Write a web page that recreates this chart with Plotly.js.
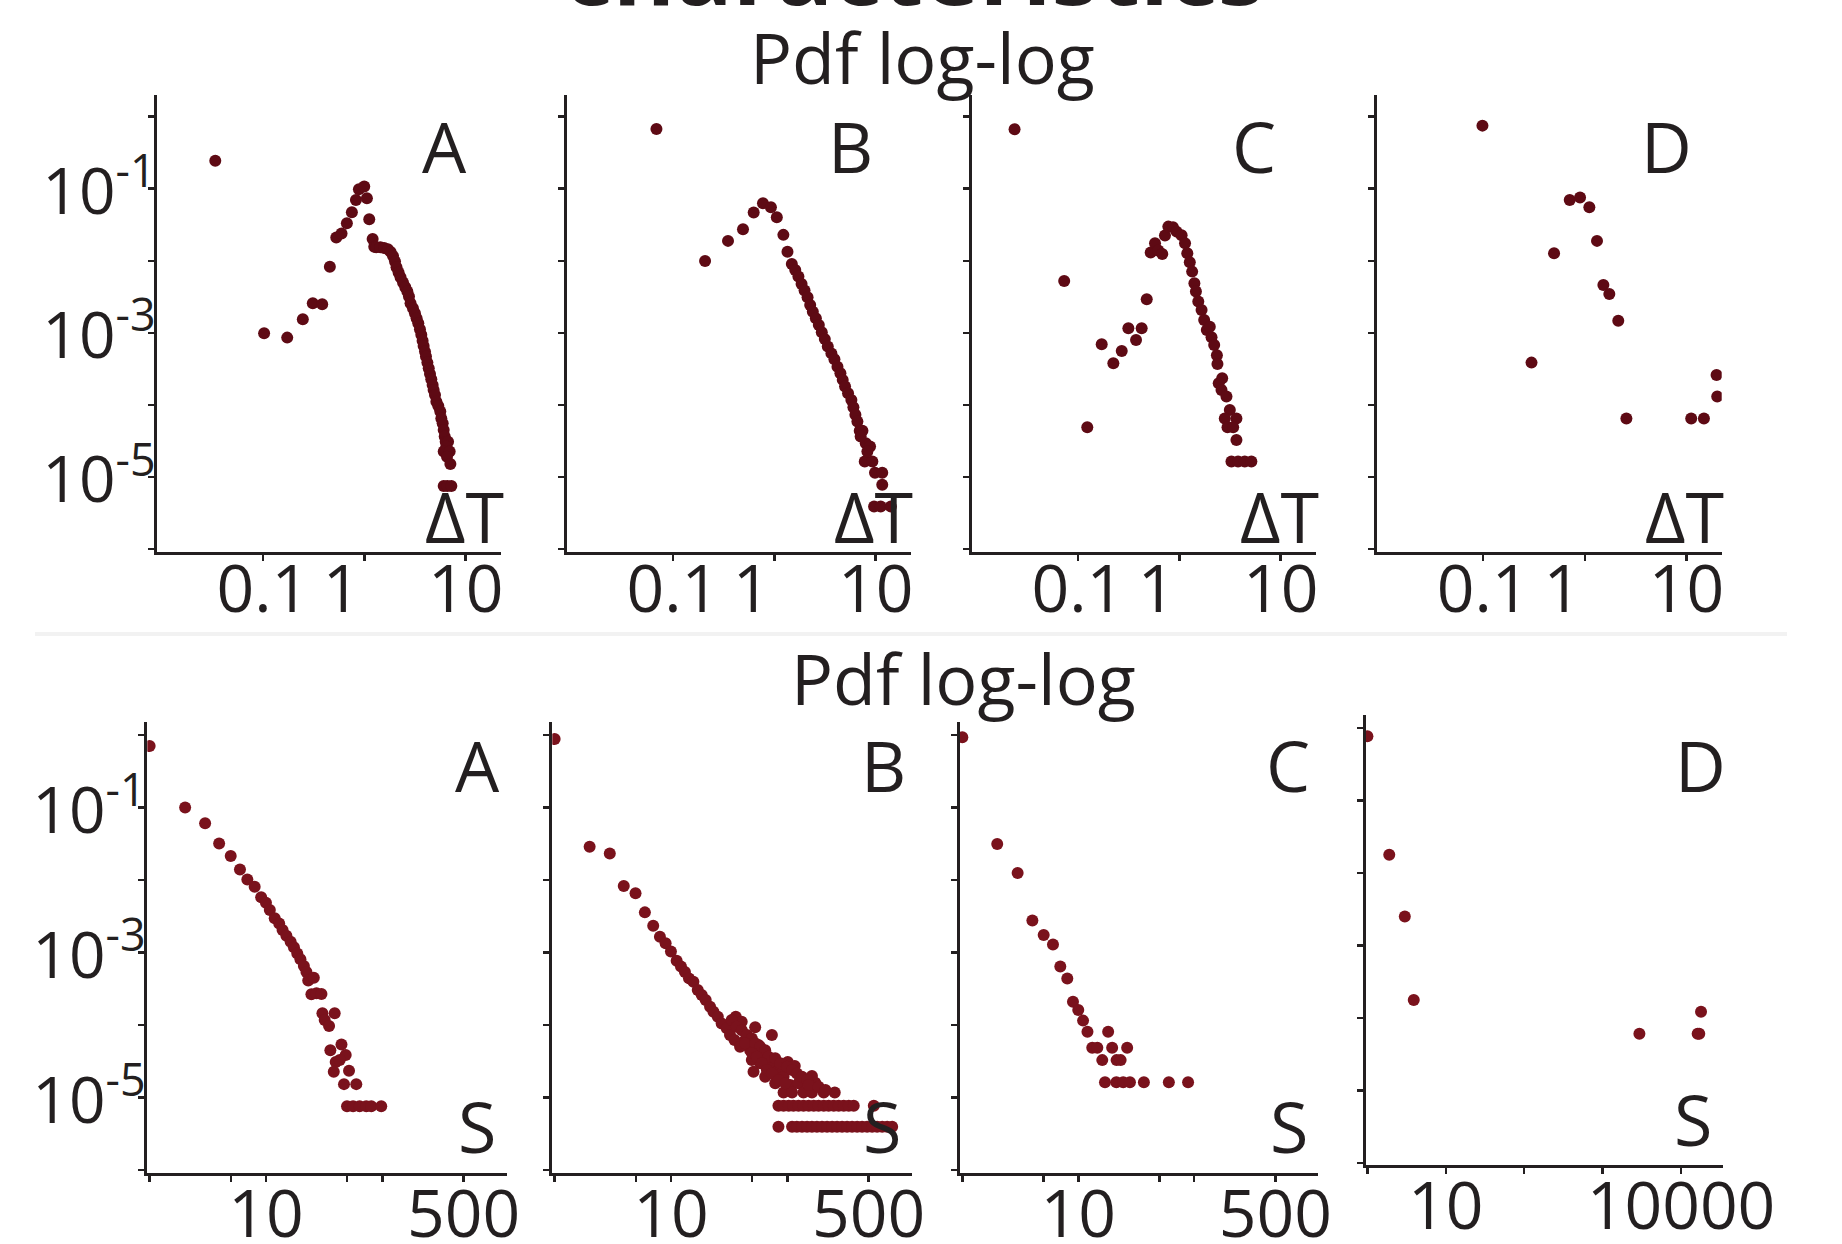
<!DOCTYPE html>
<html><head><meta charset="utf-8">
<script src="https://cdn.plot.ly/plotly-3.0.1.min.js"></script>
<style>html,body{margin:0;padding:0;background:#fff}#chart{width:1842px;height:1244px}</style>
</head><body><div id="chart"></div>
<script>
// ---------------- DATA ----------------
// Top row: pdf of waiting time ΔT (log-log), panels A-D
const topA_x = [0.034, 0.103, 0.174, 0.248, 0.311, 0.385, 0.458, 0.53, 0.597, 0.674,
  0.755, 0.828, 0.886, 1.0, 1.062, 1.12, 1.21, 1.255, 1.31, 1.44,
  1.57, 1.71, 1.82, 1.92, 2.01, 2.08, 2.18, 2.28, 2.41, 2.54,
  2.66, 2.76, 2.86, 3.02, 3.16, 3.28, 3.41, 3.54, 3.65, 3.76,
  3.85, 3.97, 4.06, 4.19, 4.32, 4.45, 4.58, 4.72, 4.83, 4.98,
  5.14, 5.37, 5.62, 5.75, 5.93, 6.07, 6.21, 6.35, 6.70, 6.44,
  6.07, 6.95, 6.54, 7.06, 6.07, 6.59, 7.22];
const topA_y = [0.245, 9.9e-4, 8.6e-4, 1.55e-3, 2.58e-3, 2.5e-3, 8.3e-3, 0.021, 0.024, 0.0332,
  0.0471, 0.0698, 0.098, 0.107, 0.0737, 0.0377, 0.0201, 0.0157, 0.0154, 0.0154,
  0.0151, 0.0145, 0.0133, 0.0117, 0.00975, 0.00813, 0.00686, 0.00591, 0.00499, 0.0043,
  0.00374, 0.00319, 0.00258, 0.0022, 0.00187, 0.0016, 0.00136, 0.00112, 9.4e-4, 7.8e-4,
  6.6e-4, 5.5e-4, 4.7e-4, 3.87e-4, 3.24e-4, 2.7e-4, 2.28e-4, 1.9e-4, 1.62e-4, 1.38e-4,
  1.11e-4, 9.7e-5, 8.1e-5, 6.5e-5, 5.6e-5, 4.5e-5, 3.65e-5, 3.1e-5, 3.1e-5, 2.65e-5,
  2.26e-5, 2.26e-5, 1.92e-5, 1.52e-5, 7.5e-6, 7.5e-6, 7.5e-6];

const topB_x = [0.069, 0.208, 0.35, 0.492, 0.627, 0.774, 0.927, 1.06, 1.23, 1.35,
  1.49, 1.61, 1.73, 1.86, 1.99, 2.13, 2.26, 2.40, 2.57, 2.75,
  2.94, 3.15, 3.37, 3.66, 3.92, 4.20, 4.49, 4.73, 4.99, 5.34,
  5.76, 6.03, 6.31, 6.60, 6.96, 7.40, 7.98, 8.80, 7.80, 9.27,
  9.84, 11.6, 11.6, 9.64, 11.2, 14.1, 8.28, 7.11];
const topB_y = [0.674, 0.00995, 0.0189, 0.0274, 0.0467, 0.0628, 0.0553, 0.0402, 0.0229, 0.0134,
  0.00905, 0.00747, 0.00604, 0.00478, 0.00386, 0.00312, 0.00244, 0.00197, 0.0016, 0.00129,
  0.00102, 8.2e-4, 6.5e-4, 5.2e-4, 4.3e-4, 3.4e-4, 2.75e-4, 2.23e-4, 1.8e-4, 1.46e-4,
  1.17e-4, 9.3e-5, 7.3e-5, 5.9e-5, 4.4e-5, 4.4e-5, 2.94e-5, 2.65e-5, 1.64e-5, 1.64e-5,
  1.15e-5, 1.15e-5, 7.8e-6, 3.9e-6, 3.9e-6, 3.9e-6, 2.26e-5, 3.65e-5];

const topC_x = [0.0238, 0.0734, 0.124, 0.172, 0.224, 0.271, 0.315, 0.375, 0.426, 0.478,
  0.523, 0.577, 0.621, 0.68, 0.723, 0.78, 0.867, 0.942, 1.055, 1.14,
  1.2, 1.27, 1.34, 1.41, 1.46, 1.54, 1.66, 1.76, 1.87, 2.00,
  2.08, 2.21, 2.35, 2.38, 2.65, 2.45, 2.61, 2.92, 3.15, 2.81,
  3.66, 2.99, 3.40, 3.66, 3.27, 3.80, 4.42, 5.14];
const topC_y = [0.667, 0.00526, 4.9e-5, 6.95e-4, 3.8e-4, 5.6e-4, 0.00116, 8.0e-4, 0.00116, 0.00293,
  0.013, 0.0175, 0.0139, 0.0124, 0.0224, 0.0298, 0.0292, 0.0254, 0.0226, 0.0175,
  0.0127, 0.00954, 0.00708, 0.00488, 0.00374, 0.00272, 0.00208, 0.00151, 0.0011, 0.00122,
  8.7e-4, 6.8e-4, 4.9e-4, 3.7e-4, 2.35e-4, 2.0e-4, 1.62e-4, 1.31e-4, 8.5e-5, 6.5e-5,
  6.5e-5, 4.9e-5, 4.9e-5, 3.28e-5, 1.64e-5, 1.64e-5, 1.64e-5, 1.64e-5];

const topD_x = [0.0985, 0.299, 0.498, 0.71, 0.897, 1.107, 1.316, 1.52, 1.74, 2.13, 2.56, 11.1, 14.8, 20.0, 19.7];
const topD_y = [0.75, 3.87e-4, 0.0127, 0.0698, 0.0753, 0.0553, 0.0189, 0.00463, 0.00347, 0.00147, 6.5e-5, 6.5e-5, 6.5e-5, 1.31e-4, 2.61e-4];

// Bottom row: pdf of size S (log-log), panels A-D
const botA_x = [1, 2.02, 3.0, 3.96, 4.98, 5.98, 6.92, 8.0, 9.1, 10,
  10.8, 11.9, 13.0, 13.9, 15.0, 16.3, 17.4, 18.6, 19.8, 21.2,
  22.3, 23.1, 25.8, 24.6, 27.2, 30.0, 30.6, 32.0, 34.9, 39.0,
  35.8, 44.6, 48.5, 39.8, 43.1, 38.3, 51.8, 46.9, 59.8, 49.8,
  56.1, 63.9, 72.9, 80.5, 98];
const botA_y = [0.705, 0.1, 0.0605, 0.032, 0.0214, 0.014, 0.0102, 0.0081, 0.00577, 0.00487,
  0.00385, 0.00296, 0.00252, 0.00204, 0.0017, 0.00141, 0.00118, 9.7e-4, 8.05e-4, 6.5e-4,
  5.4e-4, 4.1e-4, 4.5e-4, 2.65e-4, 2.74e-4, 2.68e-4, 1.45e-4, 1.17e-4, 9.7e-5, 1.45e-4,
  4.5e-5, 5.4e-5, 3.85e-5, 3.1e-5, 3.3e-5, 2.27e-5, 2.34e-5, 1.53e-5, 1.53e-5, 7.6e-6,
  7.6e-6, 7.6e-6, 7.6e-6, 7.6e-6, 7.6e-6];

const botB_x = [1, 2.0, 2.98, 3.93, 4.96, 5.97, 7.04, 8.04, 9.0, 10,
  11.2, 12.2, 13.2, 14.3, 15.6, 17.0, 18.4, 19.9, 21.7, 23.2,
  25.3, 27.3, 30.2, 36.1, 40.6, 53.0, 73.8, 32.2, 35.2, 39.3,
  43.5, 48.0, 56.6, 62.5, 49.6, 58.5, 51.3, 64.6, 73.8, 84.2,
  93, 78.8, 101, 116, 106, 125, 163, 174, 138, 163,
  206, 256, 93, 110, 33.3, 36.8, 40.7, 44.9, 49.6, 43.4,
  53.0, 58.5, 64.6, 69.0, 78.8, 87.1, 99.4, 110, 121, 134,
  148, 153, 186, 213, 49.6, 54.8, 60.5, 66.8, 73.8, 84.2,
  96.1,
  84, 93, 103, 113, 125, 138, 153, 169, 186, 206,
  227, 251, 277, 306, 338, 373, 555,
  84, 110, 121, 134, 148, 163, 180, 199, 220, 243,
  268, 296, 327, 361, 399, 440, 486, 537, 593, 655,
  723, 798];
const botB_y = [0.88, 0.0288, 0.0233, 0.00827, 0.00655, 0.00358, 0.00234, 0.00165, 0.00134, 0.00103,
  7.7e-4, 6.4e-4, 5.4e-4, 4.4e-4, 3.96e-4, 3.04e-4, 2.6e-4, 2.21e-4, 1.79e-4, 1.53e-4,
  1.3e-4, 1.05e-4, 9.0e-5, 1.3e-4, 1.11e-4, 9.3e-5, 7.3e-5, 7.3e-5, 6.2e-5, 5.0e-5,
  6.2e-5, 4.5e-5, 5.3e-5, 4.1e-5, 3.3e-5, 2.96e-5, 2.27e-5, 1.94e-5, 2.96e-5, 2.39e-5,
  1.94e-5, 1.57e-5, 3.1e-5, 2.72e-5, 1.49e-5, 1.57e-5, 1.98e-5, 1.6e-5, 1.17e-5, 1.17e-5,
  1.17e-5, 1.17e-5, 1.17e-5, 1.17e-5, 1.17e-4, 9.5e-5, 8.5e-5, 7.3e-5, 6.5e-5, 5.6e-5,
  5.6e-5, 5.0e-5, 4.5e-5, 3.66e-5, 3.47e-5, 2.96e-5, 2.66e-5, 2.39e-5, 2.15e-5, 1.94e-5,
  1.74e-5, 1.49e-5, 1.41e-5, 1.27e-5, 4.1e-5, 3.66e-5, 2.96e-5, 2.39e-5, 2.15e-5, 1.74e-5,
  1.57e-5,
  7.7e-6, 7.7e-6, 7.7e-6, 7.7e-6, 7.7e-6, 7.7e-6, 7.7e-6, 7.7e-6, 7.7e-6, 7.7e-6,
  7.7e-6, 7.7e-6, 7.7e-6, 7.7e-6, 7.7e-6, 7.7e-6, 7.7e-6,
  3.96e-6, 3.96e-6, 3.96e-6, 3.96e-6, 3.96e-6, 3.96e-6, 3.96e-6, 3.96e-6, 3.96e-6, 3.96e-6,
  3.96e-6, 3.96e-6, 3.96e-6, 3.96e-6, 3.96e-6, 3.96e-6, 3.96e-6, 3.96e-6, 3.96e-6, 3.96e-6,
  3.96e-6, 3.96e-6];

const botC_x = [1.0, 2.0, 3.0, 4.02, 5.03, 6.05, 7.0, 8.04, 9.0, 10,
  11.0, 12.0, 18.1, 13.2, 14.6, 19.6, 26.4, 16.1, 21.4, 23.2,
  17.0, 21.3, 24.4, 27.9, 36.8, 60.4, 88.5];
const botC_y = [0.93, 0.0315, 0.0125, 0.00277, 0.00175, 0.00129, 6.4e-4, 4.37e-4, 2.1e-4, 1.61e-4,
  1.15e-4, 8.1e-5, 8.1e-5, 4.86e-5, 4.86e-5, 4.86e-5, 4.86e-5, 3.28e-5, 3.28e-5, 3.28e-5,
  1.63e-5, 1.63e-5, 1.63e-5, 1.63e-5, 1.63e-5, 1.63e-5, 1.63e-5];

const botD_x = [1.0, 1.9, 3.0, 3.9, 2946, 16300, 17100, 18000];
const botD_y = [0.776, 0.0179, 0.00253, 1.78e-4, 6.07e-5, 6.07e-5, 6.07e-5, 1.22e-4];

// Tick values / labels
const topX_vals = [0.1, 1, 10];
const topX_text = ['0.1', '1\u00a0\u00a0\u2009', '10'];
const botX_vals = [1, 5, 10, 50, 100, 500];
const botX_text = ['', '', '10', '', '', '500'];
const botDX_vals = [1, 10, 100, 1000, 10000];
const botDX_text = ['', '10', '', '', '10000'];
const y_vals = [1, 0.1, 0.01, 1e-3, 1e-4, 1e-5, 1e-6];
const y_text = ['', '10<sup>-1</sup>', '', '10<sup>-3</sup>', '', '10<sup>-5</sup>', ''];
const y_blank = ['', '', '', '', '', '', ''];
const panelLetters = ['A', 'B', 'C', 'D'];
const topVarLabel = 'ΔT';
const botVarLabel = 'S';
const subTitle = 'Pdf log-log';
const mainTitle = 'characteristics';

// ---------------- LAYOUT ----------------
const W = 1842, H = 1244;
const px = v => v / W;
const py = v => 1 - v / H;
const INK = '#231f20';
const FONT = 'Open Sans, Noto Sans, sans-serif';
const TOPCOL = '#5e0a14';
const BOTCOL = '#7a121c';

const panels = [
  {x: topA_x, y: topA_y, col: TOPCOL, xl: 157.3, xr: 500.7, yt: 95, yb: 551.7, xr_: [-2.04, 1.345], yr: [-6.035, 0.30], xv: topX_vals, xt: topX_text, yt_: y_text, so: -28},
  {x: topB_x, y: topB_y, col: TOPCOL, xl: 567.3, xr: 910.7, yt: 95, yb: 551.7, xr_: [-2.04, 1.345], yr: [-6.035, 0.30], xv: topX_vals, xt: topX_text, yt_: y_blank, so: -28},
  {x: topC_x, y: topC_y, col: TOPCOL, xl: 972.3, xr: 1315.7, yt: 95, yb: 551.7, xr_: [-2.04, 1.345], yr: [-6.035, 0.30], xv: topX_vals, xt: topX_text, yt_: y_blank, so: -28},
  {x: topD_x, y: topD_y, col: TOPCOL, xl: 1377.3, xr: 1721.7, yt: 95, yb: 551.7, xr_: [-2.04, 1.345], yr: [-6.035, 0.30], xv: topX_vals, xt: topX_text, yt_: y_blank, so: -28},
  {x: botA_x, y: botA_y, col: BOTCOL, xl: 147.3, xr: 506.7, yt: 721.7, yb: 1172.7, xr_: [-0.02, 3.07], yr: [-6.037, 0.184], xv: botX_vals, xt: botX_text, yt_: y_text, so: -24},
  {x: botB_x, y: botB_y, col: BOTCOL, xl: 552.3, xr: 911.7, yt: 721.7, yb: 1172.7, xr_: [-0.02, 3.07], yr: [-6.037, 0.184], xv: botX_vals, xt: botX_text, yt_: y_blank, so: -24},
  {x: botC_x, y: botC_y, col: BOTCOL, xl: 960, xr: 1318.3, yt: 721.7, yb: 1172.7, xr_: [-0.02, 3.07], yr: [-6.037, 0.184], xv: botX_vals, xt: botX_text, yt_: y_blank, so: -24},
  {x: botD_x, y: botD_y, col: BOTCOL, xl: 1365.6, xr: 1722.8, yt: 714.7, yb: 1165.2, xr_: [-0.023, 4.533], yr: [-6.03, 0.186], xv: botDX_vals, xt: botDX_text, yt_: y_blank, so: -24}
];

const traces = [];
const layout = {
  width: W, height: H,
  margin: {l: 0, r: 0, t: 0, b: 0},
  paper_bgcolor: '#ffffff', plot_bgcolor: '#ffffff',
  showlegend: false,
  font: {family: FONT, color: INK},
  annotations: [],
  shapes: [
    {type: 'line', xref: 'paper', yref: 'paper', x0: px(35), x1: px(1787), y0: py(634), y1: py(634),
     line: {color: '#f2f2f2', width: 4}, layer: 'below'}
  ]
};

panels.forEach((p, i) => {
  const n = i + 1;
  const sx = n === 1 ? '' : String(n);
  traces.push({
    type: 'scatter', mode: 'markers', x: p.x, y: p.y,
    xaxis: 'x' + sx, yaxis: 'y' + sx,
    marker: {color: p.col, size: 12, line: {width: 0}},
    hoverinfo: 'skip'
  });
  const common = {
    type: 'log', showline: true, linecolor: INK, linewidth: 3,
    ticks: 'outside', ticklen: 6, tickwidth: 2.5, tickcolor: INK,
    showgrid: false, zeroline: false, fixedrange: true,
    tickfont: {family: FONT, size: 66, color: INK}
  };
  layout['xaxis' + sx] = Object.assign({}, common, {
    domain: [px(p.xl), px(p.xr)], anchor: 'y' + sx, range: p.xr_,
    tickmode: 'array', tickvals: p.xv, ticktext: p.xt, ticklabelstandoff: p.so
  });
  layout['yaxis' + sx] = Object.assign({}, common, {
    domain: [py(p.yb), py(p.yt)], anchor: 'x' + sx, range: p.yr,
    tickmode: 'array', tickvals: y_vals, ticktext: p.yt_, ticklabelshift: 3, ticklabelstandoff: -20,
    tickfont: {family: FONT, size: 64, color: INK}
  });
});

function ann(text, x, y, size, extra) {
  layout.annotations.push(Object.assign({
    text: text, xref: 'paper', yref: 'paper', x: px(x), y: py(y),
    xanchor: 'center', yanchor: 'middle', showarrow: false,
    font: {family: FONT, size: size, color: INK}
  }, extra || {}));
}

// panel letters
const topLetterX = [444, 850.5, 1254, 1666.5];
const botLetterX = [477.5, 883.3, 1288, 1700.7];
const topVarX = [464, 873, 1279.5, 1684.5];
const botVarX = [477, 882, 1289, 1693];
panelLetters.forEach((L, i) => {
  ann(L, topLetterX[i], 146, 70);
  ann(L, botLetterX[i], 765, 70);
  ann(topVarLabel, topVarX[i], 516, 70);
  ann(botVarLabel, botVarX[i], i === 3 ? 1119 : 1126, 70);
});
ann(subTitle, 922, 57, 70);
ann(subTitle, 963, 678, 70);
ann(mainTitle, 914, -32, 95, {font: {family: FONT, size: 95, color: INK, weight: 'bold'}});

Plotly.newPlot('chart', traces, layout, {staticPlot: true, displayModeBar: false});
</script></body></html>
